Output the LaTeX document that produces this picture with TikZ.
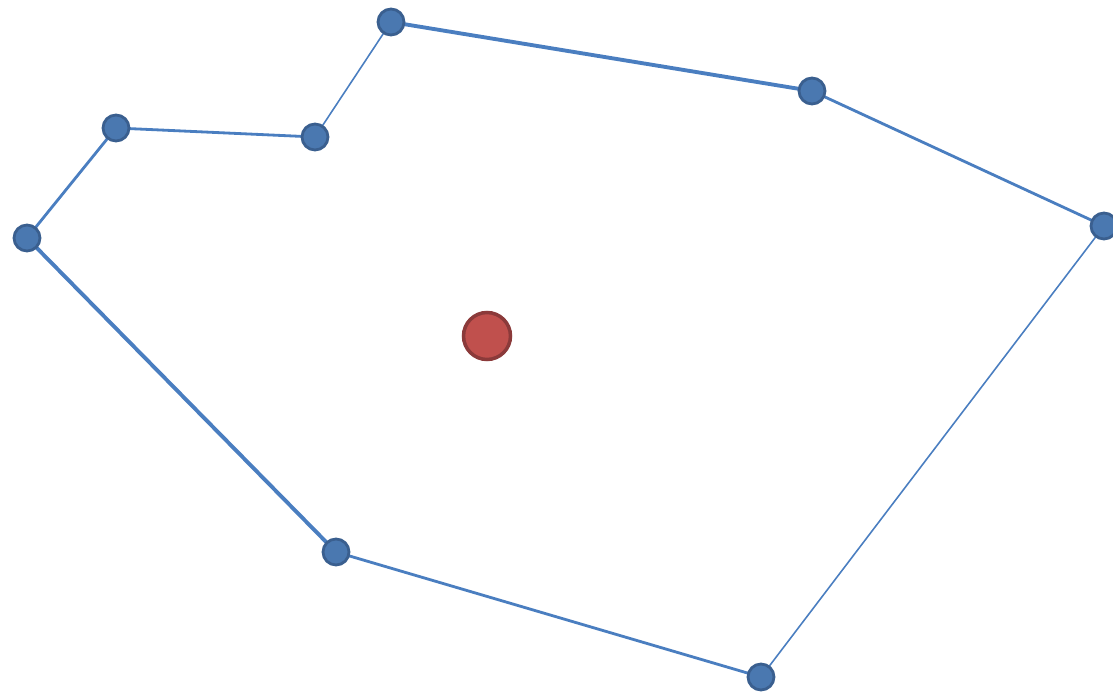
\documentclass[tikz,border=0pt]{standalone}
\usetikzlibrary{backgrounds}
\definecolor{edgeblue}{RGB}{74,126,192}
\definecolor{vertexfill}{RGB}{74,120,176}
\definecolor{vertexdraw}{RGB}{58,95,143}
\definecolor{centerfill}{RGB}{192,80,77}
\definecolor{centerdraw}{RGB}{139,58,58}
\tikzset{
    hull diagram/.style = {x=0.02cm, y=-0.02cm},
    vertex/.style       = {circle, draw=vertexdraw, fill=vertexfill,
                           line width=1.6pt, minimum size=0.52cm,
                           inner sep=0pt},
    centroid/.style     = {circle, draw=centerdraw, fill=centerfill,
                           line width=2pt, minimum size=0.94cm,
                           inner sep=0pt},
    edge/.style         = {draw=edgeblue, line width=1.6pt},
    thin edge/.style    = {edge, line width=0.9pt},
    thick edge/.style   = {edge, line width=2.2pt}
}

\begin{document}
\begin{tikzpicture}[hull diagram]
\useasboundingbox (0,0) rectangle (1113,692);
% Polygon vertices, clockwise from the top.
\node[vertex] (top)      at (391,22)   {};
\node[vertex] (upright)  at (812,91)   {};
\node[vertex] (right)    at (1104,226) {};
\node[vertex] (low)      at (761,677)  {};
\node[vertex] (lowleft)  at (336,552)  {};
\node[vertex] (left)     at (27,238)   {};
\node[vertex] (upleft)   at (116,128)  {};
\node[vertex] (notch)    at (315,137)  {};
% Centre point.
\node[centroid] (centre) at (487,336) {};

% Boundary edges go behind the vertices.
\begin{scope}[on background layer]
\draw[thick edge] (top.center) -- (upright.center);
\draw[edge]       (upright.center) -- (right.center);
\draw[thin edge]  (right.center) -- (low.center);
\draw[edge]       (low.center) -- (lowleft.center);
\draw[thick edge] (lowleft.center) -- (left.center);
\draw[edge]       (left.center) -- (upleft.center);
\draw[edge]       (upleft.center) -- (notch.center);
\draw[thin edge]  (notch.center) -- (top.center);
\end{scope}
\end{tikzpicture}
\end{document}
